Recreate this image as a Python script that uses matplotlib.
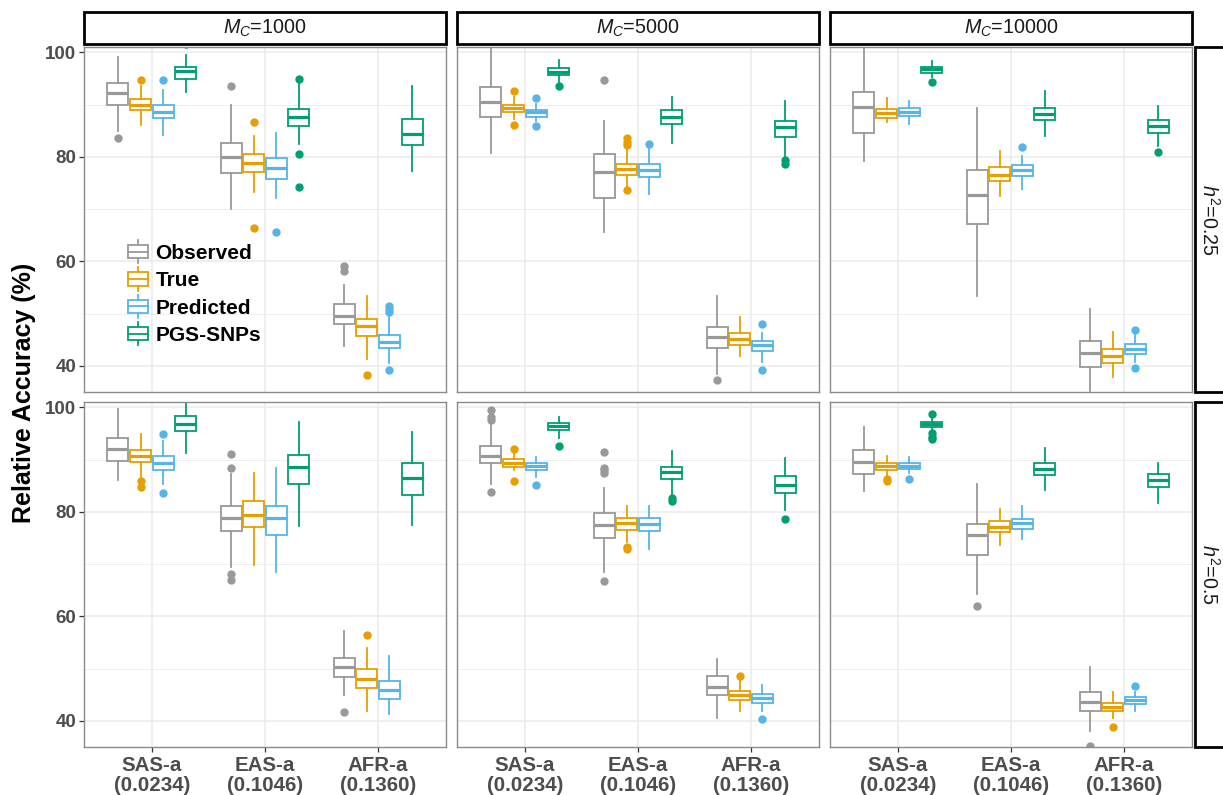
import matplotlib
matplotlib.use("Agg")
import matplotlib.pyplot as plt
from matplotlib.patches import Rectangle
from matplotlib.lines import Line2D
from matplotlib.legend_handler import HandlerBase

plt.rcParams['font.family'] = ['Liberation Sans', 'DejaVu Sans']
plt.rcParams['mathtext.fontset'] = 'custom'
plt.rcParams['mathtext.rm'] = 'Liberation Sans'
plt.rcParams['mathtext.it'] = 'Liberation Sans:italic'

# ---------------- data ----------------
groups = ["SAS-a\n(0.0234)", "EAS-a\n(0.1046)", "AFR-a\n(0.1360)"]
methods = ["Observed", "True", "Predicted", "PGS-SNPs"]
colors = ["#999999", "#E69F00", "#56B4E9", "#009E73"]
col_labels = ["$M_C$=1000", "$M_C$=5000", "$M_C$=10000"]
row_labels = ["$h^2$=0.25", "$h^2$=0.5"]
y_ticks = [40, 60, 80, 100]

# each tuple: (lower whisker, Q1, median, Q3, upper whisker) for SAS-a, EAS-a, AFR-a
# ---- h2 = 0.25, Mc = 1000
observed_h025_m1000 = [(85.0, 90.0, 92.2, 94.1, 99.0), (70.1, 76.9, 80.0, 82.7, 89.9), (43.8, 48.0, 49.5, 51.8, 55.5)]
observed_h025_m1000_out = [[83.5], [93.5], [58.1, 59.2]]
true_h025_m1000 = [(86.1, 88.9, 90.0, 91.0, 93.5), (73.3, 77.1, 78.9, 80.6, 84.0), (41.3, 45.8, 47.7, 48.9, 53.3)]
true_h025_m1000_out = [[94.6], [86.7, 66.3], [38.3]]
predicted_h025_m1000 = [(84.1, 87.5, 88.6, 90.0, 92.8), (72.2, 75.7, 77.9, 79.7, 84.5), (40.6, 43.4, 44.5, 45.9, 49.3)]
predicted_h025_m1000_out = [[94.6], [65.6], [50.4, 50.9, 51.4, 39.3]]
pgs_h025_m1000 = [(92.3, 94.8, 96.4, 97.2, 99.4), (82.4, 85.9, 87.7, 89.2, 93.9), (77.3, 82.2, 84.3, 87.3, 93.6)]
pgs_h025_m1000_out = [[101.6], [94.8, 80.6, 74.3], []]

# ---- h2 = 0.25, Mc = 5000
observed_h025_m5000 = [(80.7, 87.7, 90.4, 93.3, 101.0), (65.6, 72.1, 77.1, 80.5, 86.8), (38.4, 43.5, 45.6, 47.5, 53.3)]
observed_h025_m5000_out = [[], [94.6], [37.3]]
true_h025_m5000 = [(87.2, 88.5, 89.3, 90.0, 91.4), (74.5, 76.6, 77.7, 78.7, 81.4), (41.8, 44.0, 45.1, 46.3, 49.3)]
true_h025_m5000_out = [[92.5, 86.0], [82.2, 82.8, 83.5, 73.6], []]
predicted_h025_m5000 = [(86.9, 87.7, 88.5, 89.0, 90.1), (72.8, 76.2, 77.4, 78.6, 81.4), (40.8, 42.9, 44.0, 44.8, 46.3)]
predicted_h025_m5000_out = [[91.2, 85.8], [82.5], [48.0, 39.3]]
pgs_h025_m5000 = [(94.4, 95.6, 96.3, 96.9, 98.5), (82.6, 86.2, 87.7, 88.9, 91.5), (79.8, 83.7, 85.7, 86.8, 90.6)]
pgs_h025_m5000_out = [[93.5], [], [79.3, 78.7]]

# ---- h2 = 0.25, Mc = 10000
observed_h025_m10000 = [(79.2, 84.5, 89.6, 92.3, 100.6), (53.3, 67.2, 72.6, 77.5, 89.3), (35.1, 39.7, 42.4, 44.7, 50.9)]
observed_h025_m10000_out = [[], [], []]
true_h025_m10000 = [(86.6, 87.4, 88.4, 89.1, 91.2), (72.5, 75.3, 76.5, 78.0, 81.1), (37.8, 40.6, 41.9, 43.2, 46.4)]
true_h025_m10000_out = [[], [], []]
predicted_h025_m10000 = [(86.2, 87.8, 88.6, 89.3, 90.6), (73.8, 76.3, 77.4, 78.4, 80.2), (40.8, 42.3, 43.2, 44.1, 45.9)]
predicted_h025_m10000_out = [[], [81.8], [46.9, 39.5]]
pgs_h025_m10000 = [(95.2, 96.0, 96.7, 97.2, 98.3), (84.0, 87.0, 88.2, 89.3, 92.5), (82.0, 84.6, 85.8, 87.0, 89.8)]
pgs_h025_m10000_out = [[94.4], [], [81.0]]

# ---- h2 = 0.5, Mc = 1000
observed_h05_m1000 = [(86.1, 89.8, 92.0, 94.1, 99.7), (69.5, 76.3, 78.8, 81.1, 87.2), (45.0, 48.3, 50.4, 52.1, 57.2)]
observed_h05_m1000_out = [[], [91.1, 88.4, 68.1, 67.0], [41.7]]
true_h05_m1000 = [(86.7, 89.6, 90.7, 91.8, 94.9), (69.8, 77.0, 79.3, 82.0, 87.5), (41.8, 46.3, 48.0, 50.0, 54.0)]
true_h05_m1000_out = [[85.9, 84.7], [], [56.4]]
predicted_h05_m1000 = [(85.4, 88.0, 89.3, 90.7, 93.5), (68.5, 75.6, 78.8, 81.1, 88.3), (41.3, 44.1, 46.0, 47.7, 52.4)]
predicted_h05_m1000_out = [[94.9, 83.5], [], []]
pgs_h05_m1000 = [(91.3, 95.5, 96.7, 98.4, 101.5), (77.2, 85.3, 88.6, 90.9, 97.1), (77.4, 83.2, 86.5, 89.4, 95.2)]
pgs_h05_m1000_out = [[], [], []]

# ---- h2 = 0.5, Mc = 5000
observed_h05_m5000 = [(85.4, 89.3, 90.6, 92.6, 97.0), (68.4, 75.0, 77.4, 79.7, 84.6), (40.6, 45.0, 46.5, 48.5, 51.9)]
observed_h05_m5000_out = [[99.4, 98.1, 97.6, 83.7], [91.5, 88.4, 88.0, 87.4, 66.8], []]
true_h05_m5000 = [(87.9, 88.6, 89.4, 90.1, 91.2), (74.2, 76.6, 77.9, 78.9, 81.1), (41.8, 44.0, 45.0, 45.8, 47.6)]
true_h05_m5000_out = [[92.0, 85.8], [73.2, 72.8], [48.5]]
predicted_h05_m5000 = [(86.7, 87.9, 88.8, 89.4, 90.4), (72.9, 76.3, 77.7, 78.8, 81.1), (41.8, 43.4, 44.4, 45.1, 46.9)]
predicted_h05_m5000_out = [[85.2], [], [40.4]]
pgs_h05_m5000 = [(94.1, 95.7, 96.5, 97.0, 98.1), (83.2, 86.3, 87.7, 88.6, 91.7), (80.3, 83.6, 85.1, 86.8, 90.2)]
pgs_h05_m5000_out = [[92.5], [82.7, 82.1], [78.6]]

# ---- h2 = 0.5, Mc = 10000
observed_h05_m10000 = [(84.0, 87.2, 89.6, 91.8, 96.2), (64.2, 71.8, 75.6, 77.7, 85.4), (38.1, 41.8, 43.7, 45.5, 50.4)]
observed_h05_m10000_out = [[], [62.0], [35.2]]
true_h05_m10000 = [(86.7, 88.0, 88.7, 89.3, 90.7), (73.7, 76.1, 77.1, 78.2, 80.5), (40.5, 41.8, 42.6, 43.5, 45.6)]
true_h05_m10000_out = [[86.3, 85.8], [], [38.9]]
predicted_h05_m10000 = [(87.4, 88.2, 88.8, 89.4, 90.4), (74.8, 76.8, 77.9, 78.7, 81.1), (41.8, 43.3, 44.0, 44.5, 45.6)]
predicted_h05_m10000_out = [[86.3], [], [46.7]]
pgs_h05_m10000 = [(95.7, 96.3, 96.8, 97.2, 97.9), (84.1, 87.0, 88.2, 89.4, 92.2), (81.7, 84.7, 86.1, 87.2, 89.4)]
pgs_h05_m10000_out = [[98.7, 95.1, 94.4, 94.0], [], []]

panels = {
    (0, 0): [(observed_h025_m1000, observed_h025_m1000_out), (true_h025_m1000, true_h025_m1000_out),
             (predicted_h025_m1000, predicted_h025_m1000_out), (pgs_h025_m1000, pgs_h025_m1000_out)],
    (0, 1): [(observed_h025_m5000, observed_h025_m5000_out), (true_h025_m5000, true_h025_m5000_out),
             (predicted_h025_m5000, predicted_h025_m5000_out), (pgs_h025_m5000, pgs_h025_m5000_out)],
    (0, 2): [(observed_h025_m10000, observed_h025_m10000_out), (true_h025_m10000, true_h025_m10000_out),
             (predicted_h025_m10000, predicted_h025_m10000_out), (pgs_h025_m10000, pgs_h025_m10000_out)],
    (1, 0): [(observed_h05_m1000, observed_h05_m1000_out), (true_h05_m1000, true_h05_m1000_out),
             (predicted_h05_m1000, predicted_h05_m1000_out), (pgs_h05_m1000, pgs_h05_m1000_out)],
    (1, 1): [(observed_h05_m5000, observed_h05_m5000_out), (true_h05_m5000, true_h05_m5000_out),
             (predicted_h05_m5000, predicted_h05_m5000_out), (pgs_h05_m5000, pgs_h05_m5000_out)],
    (1, 2): [(observed_h05_m10000, observed_h05_m10000_out), (true_h05_m10000, true_h05_m10000_out),
             (predicted_h05_m10000, predicted_h05_m10000_out), (pgs_h05_m10000, pgs_h05_m10000_out)],
}

# ---------------- layout ----------------
W, H = 1223, 795
fig = plt.figure(figsize=(W / 100, H / 100), dpi=100)

col_left = [84, 457, 830]
panel_w = 362
row_top = [47, 402]
panel_h = 345
offsets = [-0.3, -0.1, 0.1, 0.3]
box_w = 0.185
lw = 1.3

def fx(px):
    return px / W

def fy(py):
    return 1 - py / H

axes = {}
for r in range(2):
    for c in range(3):
        ax = fig.add_axes([fx(col_left[c]), fy(row_top[r] + panel_h), panel_w / W, panel_h / H])
        axes[(r, c)] = ax
        ax.set_xlim(0.4, 3.6)
        ax.set_ylim(35.0, 101.0)
        ax.set_facecolor('white')
        ax.set_axisbelow(True)
        ax.set_yticks(y_ticks)
        ax.set_yticks([50, 70, 90], minor=True)
        ax.set_xticks([1, 2, 3])
        ax.grid(True, which='major', color='#ebebeb', linewidth=1.1)
        ax.grid(True, which='minor', axis='y', color='#ebebeb', linewidth=0.6)
        for s in ax.spines.values():
            s.set_color('#8a8a8a')
            s.set_linewidth(1.0)
        ax.tick_params(axis='both', which='minor', length=0)
        ax.tick_params(axis='both', which='major', length=3.5, width=0.9, color='#333333',
                       labelcolor='#4d4d4d', pad=2)
        ax.tick_params(axis='y', labelsize=13.5)
        ax.tick_params(axis='x', labelsize=14.8, pad=3)
        if c == 0:
            ax.set_yticklabels([str(v) for v in y_ticks], fontweight='bold')
        else:
            ax.tick_params(axis='y', which='major', length=0, labelleft=False)
        if r == 1:
            ax.set_xticklabels(groups, fontweight='bold', linespacing=1.05)
        else:
            ax.tick_params(axis='x', which='major', length=0, labelbottom=False)

        for m, (stats5, outs) in enumerate(panels[(r, c)]):
            col = colors[m]
            stats = []
            for g in range(3):
                lo, q1, med, q3, hi = stats5[g]
                stats.append(dict(whislo=lo, q1=q1, med=med, q3=q3, whishi=hi, fliers=outs[g]))
            pos = [g + 1 + offsets[m] for g in range(3)]
            ax.bxp(stats, positions=pos, widths=box_w, showcaps=False, showfliers=True,
                   patch_artist=True, manage_ticks=False,
                   boxprops=dict(facecolor='white', edgecolor=col, linewidth=lw),
                   medianprops=dict(color=col, linewidth=2.3, solid_capstyle='butt'),
                   whiskerprops=dict(color=col, linewidth=lw),
                   flierprops=dict(marker='o', markerfacecolor=col, markeredgecolor=col,
                                   markersize=5, linestyle='none'))

# strips on top
for c in range(3):
    rect = Rectangle((fx(col_left[c]), fy(44)), panel_w / W, 32 / H, transform=fig.transFigure,
                     facecolor='white', edgecolor='black', linewidth=2.0, clip_on=False)
    fig.add_artist(rect)
    fig.text(fx(col_left[c] + panel_w / 2), fy(28), col_labels[c], ha='center', va='center',
             fontsize=14.2, color='#1a1a1a')

# strips on the right
for r in range(2):
    rect = Rectangle((fx(1195), fy(row_top[r] + panel_h)), 40 / W, panel_h / H, transform=fig.transFigure,
                     facecolor='white', edgecolor='black', linewidth=2.0, clip_on=False)
    fig.add_artist(rect)
    fig.text(fx(1209), fy(row_top[r] + panel_h / 2), row_labels[r], ha='center', va='center',
             rotation=270, fontsize=14.2, color='#1a1a1a')

fig.text(fx(24), fy(393), "Relative Accuracy (%)", rotation=90, ha='center', va='center',
         fontsize=18, fontweight='bold', color='black')

# legend with boxplot keys
class BoxKey:
    def __init__(self, color):
        self.color = color

class BoxKeyHandler(HandlerBase):
    def create_artists(self, legend, orig_handle, xdescent, ydescent, width, height, fontsize, trans):
        col = orig_handle.color
        x0, y0 = -xdescent, -ydescent
        ext = height * 0.35
        rect = Rectangle((x0, y0), width, height, facecolor='white', edgecolor=col, linewidth=lw, transform=trans)
        med = Line2D([x0, x0 + width], [y0 + height / 2] * 2, color=col, linewidth=lw, transform=trans)
        wt = Line2D([x0 + width / 2] * 2, [y0 + height, y0 + height + ext], color=col, linewidth=lw, transform=trans)
        wb = Line2D([x0 + width / 2] * 2, [y0 - ext, y0], color=col, linewidth=lw, transform=trans)
        return [wt, wb, rect, med]

handles = [BoxKey(c) for c in colors]
ax0 = axes[(0, 0)]
leg = ax0.legend(handles, methods, handler_map={BoxKey: BoxKeyHandler()},
                 loc='upper left', bbox_to_anchor=((128 - 84) / panel_w, 1 - (244 - 47) / panel_h),
                 frameon=False, borderpad=0, borderaxespad=0, handlelength=0.97, handleheight=0.63,
                 handletextpad=0.35, labelspacing=0.4, prop=dict(size=15, weight='bold'))

fig.savefig("out.png", dpi=100)
